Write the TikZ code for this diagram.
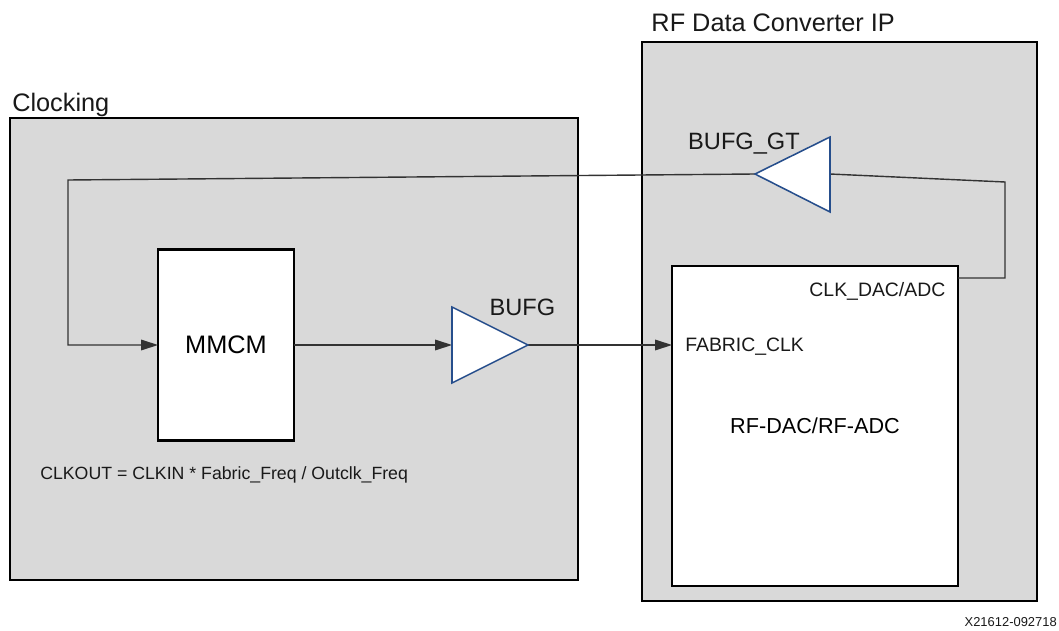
\documentclass[tikz,border=0pt]{standalone}
\usepackage{fontspec}
\setmainfont{Liberation Sans}
\usetikzlibrary{arrows.meta}
\definecolor{blockgray}{RGB}{217,217,217}
\definecolor{bufblue}{RGB}{38,78,140}
\begin{document}
\begin{tikzpicture}[
  blk/.style={draw,line width=2.1pt,inner sep=0pt,outer sep=0pt},
  wire/.style={line width=1pt,draw=black!80},
  sig/.style={wire,-{Triangle[length=12pt,width=7.5pt]}},
  buf/.style={draw=bufblue,fill=white,line width=1.1pt,line join=miter},
  txt/.style={inner sep=0pt,text=black!90},
  bigtxt/.style={txt,font=\fontsize{18}{21}\selectfont},
  buftxt/.style={txt,font=\fontsize{16.8}{20}\selectfont},
  porttxt/.style={txt,font=\fontsize{13.8}{16}\selectfont}]
\useasboundingbox (0,0) rectangle (26.475,15.75);

\node[blk,fill=blockgray,minimum width=14.2cm,minimum height=11.55cm] (clocking) at (7.35,7.025) {};
\node[blk,fill=blockgray,minimum width=9.875cm,minimum height=13.975cm] (rfdc) at (20.9875,7.7125) {};
\node[blk,fill=white,minimum width=7.15cm,minimum height=8cm,font=\fontsize{15.4}{18}\selectfont] (dacadc) at (20.375,5.1) {RF-DAC/RF-ADC};
\node[blk,fill=white,minimum width=3.4cm,minimum height=4.775cm,font=\fontsize{18}{21}\selectfont] (mmcm) at (5.65,7.125) {MMCM};

\node[bigtxt,anchor=base west] (clocklbl) at (0.3,12.95) {Clocking};
\node[bigtxt,anchor=base west] (rfdclbl) at (16.28,14.95) {RF Data Converter IP};

\coordinate (bufgin) at (11.3,7.125);
\coordinate (bufgout) at (13.2,7.125);
\coordinate (gtin) at (20.75,11.4);
\coordinate (gtout) at (18.875,11.4);
\coordinate (fbk) at (1.7,11.25);
\coordinate (ret) at (25.125,11.2);
\coordinate (clkport) at (dacadc.east |- 0,8.8);

\draw[sig] (gtout) -- (fbk) |- (mmcm.west);
\draw[sig] (mmcm.east) -- (bufgin);
\draw[sig] (bufgout) -- (dacadc.west |- bufgout);
\draw[wire] (clkport) -- (clkport -| ret) -- (ret) -- (gtin);

\draw[buf] (11.3,8.075) -- (bufgout) -- (11.3,6.175) -- cycle;
\draw[buf] (20.75,12.325) -- (gtout) -- (20.75,10.45) -- cycle;

\node[buftxt,anchor=base] (bufglbl) at (13.06,7.875) {BUFG};
\node[buftxt,anchor=base] (gtlbl) at (18.6,12.0) {BUFG\_GT};
\node[porttxt,anchor=base west] (fabclk) at (17.125,6.975) {FABRIC\_CLK};
\node[porttxt,anchor=base east] (clkdac) at (23.64,8.33) {CLK\_DAC/ADC};
\node[txt,anchor=base west,font=\fontsize{12.6}{15}\selectfont] (eqn) at (1.0,3.77) {CLKOUT = CLKIN * Fabric\_Freq / Outclk\_Freq};
\node[txt,anchor=base east,font=\fontsize{9.2}{11}\selectfont] (figid) at (26.425,0.1) {X21612-092718};
\end{tikzpicture}
\end{document}
